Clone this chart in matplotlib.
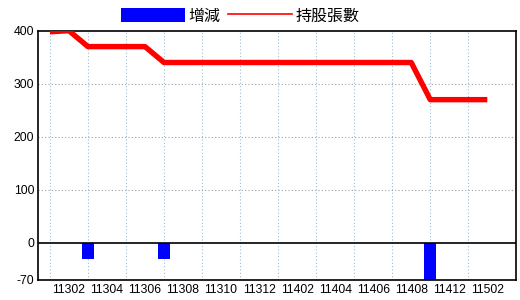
import matplotlib
matplotlib.use("Agg")
from matplotlib import pyplot as plt
from matplotlib.patches import Patch
from matplotlib.lines import Line2D

# monthly data (ROC year + month)
months = ['11301', '11302', '11303', '11304', '11305', '11306', '11307', '11308',
          '11309', '11310', '11311', '11312', '11401', '11402', '11403', '11404',
          '11405', '11406', '11407', '11408', '11410', '11412', '11501', '11502']
shares = [398, 400, 370, 370, 370, 370, 340, 340,
          340, 340, 340, 340, 340, 340, 340, 340,
          340, 340, 340, 340, 270, 270, 270, 270]
change = [0, 0, -30, 0, 0, 0, -30, 0,
          0, 0, 0, 0, 0, 0, 0, 0,
          0, 0, 0, 0, -70, 0, 0, 0]
yticks = [-70, 0, 100, 200, 300, 400]

fonts = ['Liberation Sans', 'Noto Sans CJK TC', 'DejaVu Sans']
plt.rcParams['font.family'] = fonts

fig = plt.figure(figsize=(5.2, 3.0), dpi=100)
ax = fig.add_axes([0.074, 0.0667, 0.918, 0.831])

x = list(range(len(months)))
ax.bar(x, change, width=0.63, color='#0000ff', zorder=2)
ax.plot(x, shares, color='#ff0000', linewidth=3.9, solid_capstyle='butt', zorder=3)
ax.axhline(0, color='black', linewidth=1.2, zorder=4)

ax.set_xlim(-0.6, 24.5)
ax.set_ylim(-70, 400)
ax.set_yticks(yticks)
ax.set_yticklabels([str(v) for v in yticks], fontsize=8.8)
ax.set_xticks(x[1::2])
ax.set_xticklabels(months[1::2], fontsize=8.8)
ax.tick_params(axis='both', length=0, pad=3)

# grid lines
for k in x[0::2]:
    ax.axvline(k, color='#9dbdd0', linestyle=(0, (1, 2)), linewidth=0.8, zorder=1)
for v in [100, 200, 300]:
    ax.axhline(v, color='#a0a0a0', linestyle=(0, (1, 2)), linewidth=0.8, zorder=1)

for s in ax.spines.values():
    s.set_linewidth(1.2)

handles = [Patch(facecolor='#0000ff', edgecolor='none'),
           Line2D([], [], color='#ff0000', linewidth=1.2)]
fig.legend(handles, ['增減', '持股張數'], loc='center', bbox_to_anchor=(0.462, 0.947),
           ncol=2, frameon=False, handlelength=4.0, handleheight=1.0,
           handletextpad=0.2, columnspacing=0.5, prop={'family': fonts, 'size': 11.5})

fig.savefig('out.png', dpi=100)
